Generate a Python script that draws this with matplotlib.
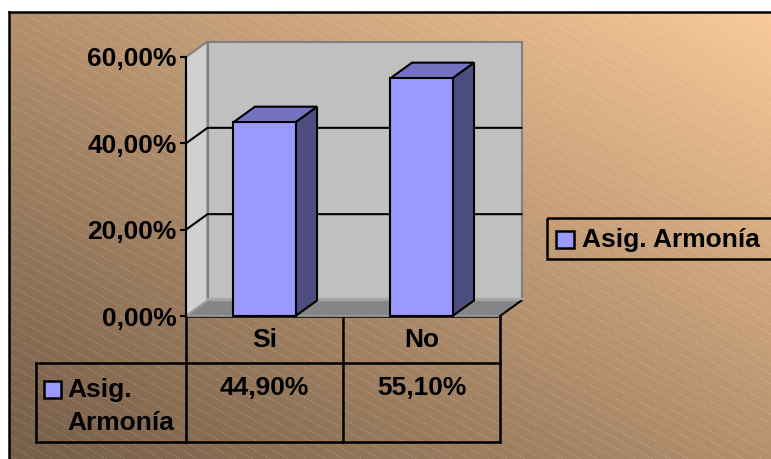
import numpy as np
import matplotlib
matplotlib.use("Agg")
import matplotlib.pyplot as plt
from matplotlib.patches import Rectangle, Polygon
from matplotlib.collections import LineCollection

plt.rcParams["font.family"] = ["Liberation Sans", "DejaVu Sans"]
plt.rcParams["font.weight"] = "bold"

categories = ["Si", "No"]
values = [44.90, 55.10]
series_name = "Asig. Armonía"
yticks = [0, 20, 40, 60]

bar_front = "#9999ff"
bar_top = "#7373bf"
bar_side = "#4d4d80"
wall_back = "#c0c0c0"
wall_left = "#d0d0d0"
floor_col = "#858585"
edge_gray = "#808080"

W, H = 771, 459
FS = 19


def pct(v):
    return f"{v:.2f}%".replace(".", ",")


fig = plt.figure(figsize=(W / 100, H / 100), dpi=100)

# background layer in pixel coordinates
bg = fig.add_axes([0, 0, 1, 1])
bg.set_xlim(0, W)
bg.set_ylim(H, 0)
bg.axis("off")

x0, y0 = 9, 12
xx, yy = np.meshgrid(np.arange(x0, W), np.arange(y0, H))
t = 0.5 * (xx / W) + 0.5 * (1 - yy / H)
c0 = np.array([0x76, 0x5e, 0x48]) / 255
c1 = np.array([0xfc, 0xcb, 0x99]) / 255
grad = c0 + t[..., None] ** 1.1 * (c1 - c0)
bg.imshow(grad, extent=(x0, W, H, y0), aspect="auto", zorder=0)

# faint diagonal hatch
frame = Rectangle((x0, y0), W - x0, H - y0, transform=bg.transData, facecolor="none", edgecolor="none")
bg.add_patch(frame)
segs = []
for c in np.arange(-450, 470, 10):
    segs.append([(x0, c + 0.55 * x0), (W, c + 0.55 * W)])
hatch = LineCollection(segs, colors="white", linewidths=0.8, alpha=0.2,
                       linestyles=(0, (1.5, 1.5)), zorder=1)
bg.add_collection(hatch)
hatch.set_clip_path(frame)

bg.plot([x0, W], [y0, y0], color="black", lw=1.8, zorder=2)
bg.plot([x0, x0], [y0, H], color="black", lw=1.8, zorder=2)

# chart area: front plane from x=-0.5..1.5, values 0..60
ax = fig.add_axes([186 / W, (H - 316) / H, 314 / W, 259 / H])
ax.set_xlim(-0.5, 1.5)
ax.set_ylim(0, 60)
ax.patch.set_visible(False)
for s in ["top", "right", "bottom"]:
    ax.spines[s].set_visible(False)
ax.spines["left"].set_linewidth(1.5)
ax.spines["left"].set_zorder(6)
ax.set_xticks([])
ax.set_yticks(yticks)
ax.set_yticklabels([pct(v) for v in yticks])
ax.tick_params(axis="y", length=4.5, width=1.5, pad=2, labelsize=FS)

ddx = 21.5 / 157
ddy = 15.5 / (259 / 60)
xl, xr = -0.5, 1.5
ytop = yticks[-1]

# walls and floor
ax.add_patch(Polygon([(xl + ddx, ddy), (xr + ddx, ddy), (xr + ddx, ytop + ddy), (xl + ddx, ytop + ddy)],
                     closed=True, facecolor=wall_back, edgecolor=edge_gray, lw=1.5, clip_on=False, zorder=1))
ax.add_patch(Polygon([(xl, 0), (xl, ytop), (xl + ddx, ytop + ddy), (xl + ddx, ddy)],
                     closed=True, facecolor=wall_left, edgecolor=edge_gray, lw=1.5, clip_on=False, zorder=1))
ax.add_patch(Polygon([(xl, 0), (xr, 0), (xr + ddx, ddy), (xl + ddx, ddy)],
                     closed=True, facecolor=floor_col, edgecolor="#a0a0a0", lw=1.2, clip_on=False, zorder=1))
ax.plot([xr, xr + ddx], [0, ddy], color="black", lw=1.5, clip_on=False, zorder=2)
ax.plot([xl + ddx, xr + ddx], [ddy + 0.4, ddy + 0.4], color="#a8a8a8", lw=1.5, clip_on=False, zorder=2)

for v in yticks[1:-1]:
    ax.plot([xl, xl + ddx, xr + ddx], [v, v + ddy, v + ddy], color="black", lw=1.5,
            clip_on=False, zorder=2)

# 3-D style bars
bw = 0.395
for i, v in enumerate(values):
    a, b = i - bw / 2, i + bw / 2
    ax.add_patch(Polygon([(b, 0), (b + ddx, ddy), (b + ddx, v + ddy), (b, v)], closed=True,
                         facecolor=bar_side, edgecolor="black", lw=1.5, clip_on=False, zorder=3))
    ax.add_patch(Polygon([(a, v), (b, v), (b + ddx, v + ddy), (a + ddx, v + ddy)], closed=True,
                         facecolor=bar_top, edgecolor="black", lw=1.5, clip_on=False, zorder=3))
    ax.add_patch(Rectangle((a, 0), bw, v, facecolor=bar_front, edgecolor="black", lw=1.5,
                           clip_on=False, zorder=4))


# data table below the chart
def to_px(x):
    return bg.transData.inverted().transform(ax.transData.transform((x, 0)))[0]


col_edges = [to_px(e) for e in [-0.5, 0.5, 1.5]]
label_left = 36
r0, r1, r2 = 316, 363, 442
lk = dict(color="black", lw=1.8, zorder=3)
bg.plot([col_edges[0], col_edges[-1]], [r0, r0], **lk)
bg.plot([label_left, col_edges[-1]], [r1, r1], **lk)
bg.plot([label_left, col_edges[-1]], [r2, r2], **lk)
for e in col_edges:
    bg.plot([e, e], [r0, r2], **lk)
bg.plot([label_left, label_left], [r1, r2], **lk)

for i, (cat, v) in enumerate(zip(categories, values)):
    cx = to_px(i)
    bg.text(cx, 340, cat, ha="center", va="center", fontsize=FS, zorder=4)
    bg.text(cx, 388, pct(v), ha="center", va="center", fontsize=FS, zorder=4)

bg.add_patch(Rectangle((44, 381), 17, 17, facecolor=bar_front, edgecolor="black", lw=1.8, zorder=4))
name_a, name_b = series_name.split(" ")
bg.text(67, 390, name_a, ha="left", va="center", fontsize=FS, zorder=4)
bg.text(67, 423, name_b, ha="left", va="center", fontsize=FS, zorder=4)

# legend
bg.add_patch(Rectangle((547, 218), 240, 41, facecolor="none", edgecolor="black", lw=1.8, zorder=4))
bg.add_patch(Rectangle((556, 231), 18, 17, facecolor=bar_front, edgecolor="black", lw=1.8, zorder=4))
bg.text(582, 240, series_name, ha="left", va="center", fontsize=FS, zorder=4)

fig.savefig("out.png", dpi=100)
